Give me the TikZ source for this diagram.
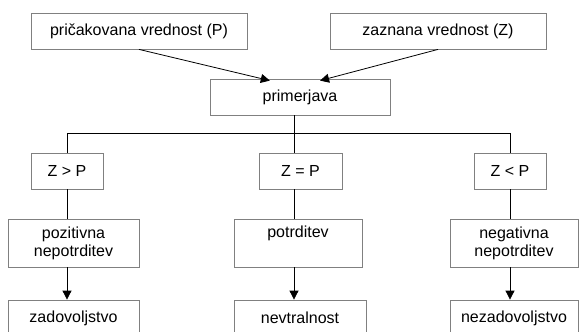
\documentclass[tikz,border=0pt]{standalone}
\usepackage{fontspec}
\setmainfont{Liberation Sans}
\usetikzlibrary{arrows.meta,calc}
\begin{document}
\begin{tikzpicture}[x=1pt,y=-1pt]
\tikzstyle{box node}=[rectangle,draw=gray,line width=0.8pt,inner sep=0pt,align=center,
  font=\fontsize{16}{18}\selectfont]
\tikzset{
	link/.style={line width=0.8pt},
	arrow link/.style={line width=0.8pt,-{Triangle[width=9pt,length=9pt]}}
}
\clip (0,0) rectangle (579,332);
% top row
\node[box node,minimum width=216,minimum height=36] (pric) at (139,31) {pričakovana vrednost (P)};
\node[box node,minimum width=216,minimum height=36] (zazn) at (438,31) {zaznana vrednost (Z)};
\node[box node,minimum width=180,minimum height=36] (prim) at (300,97) {primerjava};
% comparisons
\node[box node,minimum width=72,minimum height=36] (zgp) at (67,171) {Z > P};
\node[box node,minimum width=83,minimum height=36] (zep) at (300.5,171) {Z = P};
\node[box node,minimum width=72,minimum height=36] (zlp) at (510,171) {Z < P};
% outcomes
\node[box node,minimum width=131,minimum height=48] (poz) at (73.5,243) {pozitivna\\nepotrditev};
\node[box node,minimum width=128,minimum height=48] (potr) at (298,243) {potrditev\\\strut};
\node[box node,minimum width=128,minimum height=48] (neg) at (514,243) {negativna\\nepotrditev};
\node[box node,minimum width=131,minimum height=36] (zad) at (73.5,318) {zadovoljstvo};
\node[box node,minimum width=132,minimum height=36] (nevt) at (300,318) {nevtralnost};
\node[box node,minimum width=128,minimum height=36] (nezad) at (514,318) {nezadovoljstvo};
\coordinate (mid) at (294,0);
\coordinate (bus) at (0,133);
% connectors
\draw[arrow link] (pric.south) -- ($(prim.north west)!.333!(prim.north east)+(0,2)$);
\draw[arrow link] (zazn.south) -- ($(prim.north west)!.611!(prim.north east)+(0,2)$);
\draw[link] (prim.south -| mid) -- (zep.north -| mid);
\draw[link] (zgp.north) |- (bus -| zlp) -- (zlp.north);
\draw[link] (zgp.south) -- (zgp.south |- poz.north);
\draw[link] (zep.south -| mid) -- (potr.north -| mid);
\draw[link] (zlp.south) -- (zlp.south |- neg.north);
\draw[arrow link] (poz.south -| zgp) -- (zad.north -| zgp);
\draw[arrow link] (potr.south -| mid) -- (nevt.north -| mid);
\draw[arrow link] (neg.south -| zlp) -- (nezad.north -| zlp);
\end{tikzpicture}
\end{document}
